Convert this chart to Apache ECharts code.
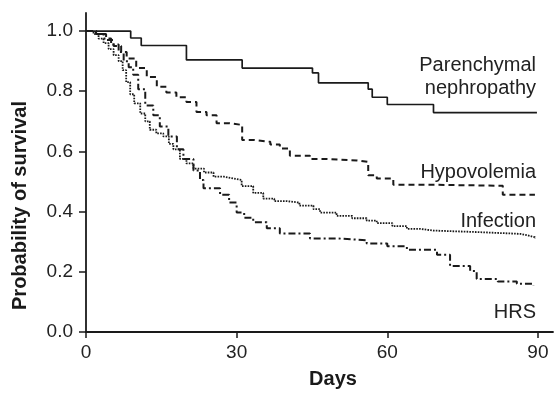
<!DOCTYPE html>
<html>
<head>
<meta charset="utf-8">
<script src="https://cdn.jsdelivr.net/npm/echarts@6/dist/echarts.min.js"></script>
<style>
  html, body { margin: 0; padding: 0; background: #fff; }
  #chart { width: 554px; height: 394px; }
</style>
</head>
<body>
<div id="chart"></div>
<script>
// axis ticks
const xTicks = [0, 30, 60, 90]
const yTicks = [0, 0.2, 0.4, 0.6, 0.8, 1.0]

// Kaplan-Meier curves (day of event, survival after it)
const parenDays = [0, 8.9, 11, 20, 31.1, 45.1, 46.3, 56.2, 57, 60, 69.2, 89.8]
const parenProb = [1.0, 0.977, 0.952, 0.904, 0.877, 0.861, 0.828, 0.807, 0.78, 0.756, 0.729, 0.729]

const hypoDays = [0, 2, 4, 5.5, 7, 8.1, 10, 12.1, 14.1, 16, 18, 20, 22, 24, 26, 28.5, 31.1, 33.5, 36.7, 38.6, 40.6, 44.6, 48, 54, 56.2, 57.9, 61.2, 70, 83, 89.4]
const hypoProb = [1.0, 0.99, 0.97, 0.95, 0.93, 0.909, 0.877, 0.847, 0.815, 0.796, 0.78, 0.764, 0.731, 0.72, 0.694, 0.688, 0.638, 0.632, 0.623, 0.61, 0.586, 0.575, 0.57, 0.565, 0.521, 0.51, 0.489, 0.486, 0.456, 0.456]

const infDays = [0, 1.5, 2.5, 3.5, 4.5, 5.5, 6.5, 7.3, 8, 8.8, 9.6, 10.8, 11.8, 12.7, 14, 15.4, 16.5, 17.4, 18.7, 20, 21.4, 23.5, 25.4, 27.5, 29.3, 31, 33.3, 35.3, 37.5, 40, 42.5, 45.3, 46.6, 49.9, 53, 55.9, 57.9, 61, 63.9, 66.5, 69.2, 78, 86.5, 88, 89.4]
const infProb = [1.0, 0.99, 0.975, 0.96, 0.94, 0.92, 0.9, 0.87, 0.83, 0.79, 0.76, 0.726, 0.7, 0.672, 0.66, 0.65, 0.625, 0.607, 0.575, 0.56, 0.543, 0.53, 0.516, 0.51, 0.505, 0.485, 0.462, 0.443, 0.435, 0.43, 0.42, 0.408, 0.397, 0.386, 0.378, 0.37, 0.362, 0.352, 0.343, 0.337, 0.332, 0.326, 0.321, 0.315, 0.31]

const hrsDays = [0, 2, 3.5, 5, 6.5, 7.5, 8.5, 9.4, 10.4, 11.8, 13.4, 14.7, 16.4, 18.1, 19.4, 21.4, 22.7, 23.4, 26.7, 28.5, 30, 31.5, 33.3, 36, 38.6, 44.6, 50, 55.9, 60, 63.9, 69.9, 72.5, 76.5, 77.8, 82, 85.8, 89.1]
const hrsProb = [1.0, 0.99, 0.975, 0.955, 0.93, 0.9, 0.88, 0.855, 0.807, 0.753, 0.72, 0.683, 0.65, 0.607, 0.575, 0.537, 0.505, 0.478, 0.456, 0.43, 0.397, 0.38, 0.365, 0.345, 0.327, 0.311, 0.305, 0.294, 0.285, 0.273, 0.257, 0.219, 0.203, 0.176, 0.168, 0.16, 0.154]

const labels = ['Parenchymal', 'nephropathy', 'Hypovolemia', 'Infection', 'HRS']

const chart = echarts.init(document.getElementById('chart'))

const pairs = (xs, ys) => xs.map((x, i) => [x, ys[i]])

const ink = '#1a1a1a'
const font = '"Liberation Sans", Arial, sans-serif'

function kmSeries(name, xs, ys, type, width) {
  return {
    name,
    type: 'line',
    step: 'end',
    showSymbol: false,
    data: pairs(xs, ys),
    lineStyle: { color: ink, width, type }
  }
}

// label positions next to the curve ends
const labelPos = [[536, 65], [536, 88], [536, 172], [536, 221], [536, 312]]

const option = {
  animation: false,
  grid: { left: 86, right: 1, top: 13, bottom: 55 },
  xAxis: {
    type: 'value',
    min: 0,
    max: 93,
    name: 'Days',
    nameLocation: 'middle',
    nameGap: 37,
    nameTextStyle: { fontFamily: font, fontSize: 20, fontWeight: 'bold', color: ink, padding: [0, 0, 0, 27] },
    axisLine: { lineStyle: { color: ink, width: 1.8 } },
    axisTick: { customValues: xTicks, length: 6, lineStyle: { color: ink, width: 1.5 } },
    axisLabel: { customValues: xTicks, margin: 11, fontFamily: font, fontSize: 19, color: '#222' },
    splitLine: { show: false }
  },
  yAxis: {
    type: 'value',
    min: 0,
    max: 1.06,
    name: 'Probability of survival',
    nameLocation: 'middle',
    nameGap: 56,
    nameTextStyle: { fontFamily: font, fontSize: 20, fontWeight: 'bold', color: ink, padding: [0, 66, 0, 0] },
    axisLine: { lineStyle: { color: ink, width: 1.8 } },
    axisTick: { customValues: yTicks, length: 7, lineStyle: { color: ink, width: 1.5 } },
    axisLabel: {
      customValues: yTicks,
      margin: 13,
      fontFamily: font,
      fontSize: 19,
      color: '#222',
      formatter: v => v.toFixed(1)
    },
    splitLine: { show: false }
  },
  series: [
    kmSeries('Parenchymal nephropathy', parenDays, parenProb, 'solid', 1.7),
    kmSeries('Hypovolemia', hypoDays, hypoProb, [6, 4], 2),
    kmSeries('Infection', infDays, infProb, [1.6, 1.2], 1.8),
    kmSeries('HRS', hrsDays, hrsProb, [7, 3, 2, 3], 2)
  ],
  graphic: labels.map((t, i) => ({
    type: 'text',
    x: labelPos[i][0],
    y: labelPos[i][1],
    style: {
      text: t,
      fontFamily: font,
      fontSize: 20,
      fill: '#222',
      textAlign: 'right',
      textVerticalAlign: 'middle'
    }
  }))
}

chart.setOption(option)
</script>
</body>
</html>
